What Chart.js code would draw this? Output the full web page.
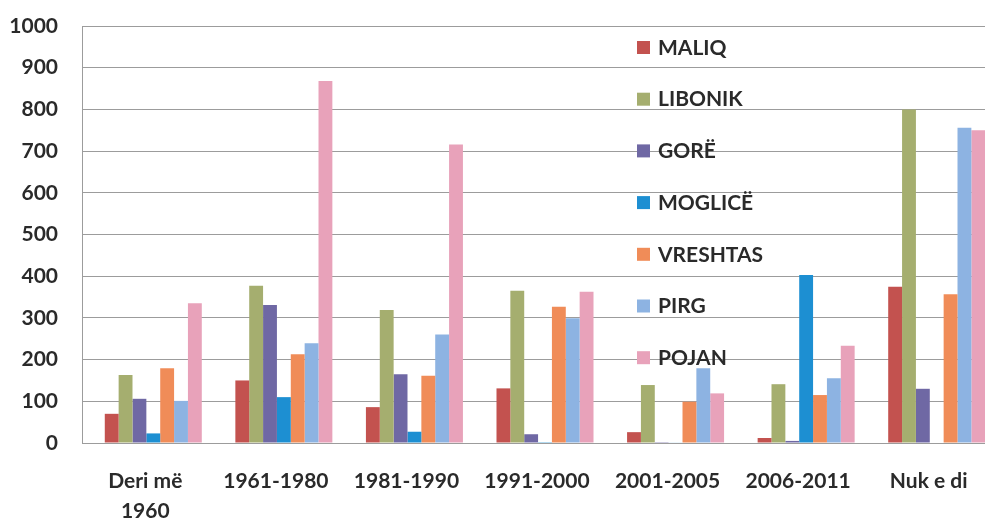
<!DOCTYPE html>
<html>
<head>
<meta charset="utf-8">
<title>Banesat sipas periudhës së ndërtimit</title>
<script src="https://cdn.jsdelivr.net/npm/chart.js@4.4.1/dist/chart.umd.min.js"></script>
<style>
  html, body { margin: 0; padding: 0; background: #fff; overflow: hidden; }
  #wrap { position: relative; width: 1002px; height: 519px; }
</style>
</head>
<body>
<div id="wrap"><canvas id="barChart"></canvas></div>
<script>
// periods of construction, one group of bars each
const periods = [['Deri më', '1960'], '1961-1980', '1981-1990', '1991-2000', '2001-2005', '2006-2011', 'Nuk e di'];
const villages = ['MALIQ', 'LIBONIK', 'GORË', 'MOGLICË', 'VRESHTAS', 'PIRG', 'POJAN'];

const maliq    = [70, 150, 86, 131, 26, 12, 375];
const libonik  = [163, 377, 319, 365, 139, 141, 800];
const gore     = [106, 331, 165, 21, 2, 5, 130];
const moglice  = [23, 110, 27, 2, 1, 403, 0];
const vreshtas = [179, 213, 161, 327, 99, 115, 357];
const pirg     = [101, 239, 260, 299, 179, 155, 756];
const pojan    = [335, 868, 716, 363, 119, 233, 750];

const yTicks = [0, 100, 200, 300, 400, 500, 600, 700, 800, 900, 1000];

const colors = ['#c3524f', '#a5ae6f', '#6f68a4', '#1d8fd2', '#f08c58', '#8db3e2', '#e8a2ba'];
const series = [maliq, libonik, gore, moglice, vreshtas, pirg, pojan];

const textColor = '#2a2a2a';
const gridColor = '#9c9c9c';

// legend sits inside the plot, stacked vertically
const insideLegend = {
    id: 'insideLegend',
    afterDraw(chart, args, opts) {
        const ctx = chart.ctx;
        ctx.save();
        ctx.font = 'bold 21px Lato';
        ctx.textBaseline = 'middle';
        chart.data.datasets.forEach((ds, i) => {
            const y = opts.top + i * opts.spacing;
            ctx.fillStyle = ds.backgroundColor;
            ctx.fillRect(opts.left, y - 6, 13, 13);
            ctx.fillStyle = textColor;
            ctx.fillText(ds.label, opts.left + 21, y + 1);
        });
        ctx.restore();
    }
};

// vertical axis line drawn at the outer end of the y tick marks
const leftAxisLine = {
    id: 'leftAxisLine',
    beforeDatasetsDraw(chart) {
        const { ctx, chartArea, scales } = chart;
        const x = chartArea.left - scales.y.options.grid.tickLength + 0.5;
        ctx.save();
        ctx.strokeStyle = gridColor;
        ctx.lineWidth = 1;
        ctx.beginPath();
        ctx.moveTo(x, chartArea.top);
        ctx.lineTo(x, chartArea.bottom);
        ctx.stroke();
        ctx.restore();
    }
};

const ctxBar = document.getElementById('barChart').getContext('2d');
const barChart = new Chart(ctxBar, {
    type: 'bar',
    data: {
        labels: periods,
        datasets: villages.map((name, i) => ({
            label: name,
            data: series[i],
            backgroundColor: colors[i],
            borderWidth: 0
        }))
    },
    options: {
        responsive: true,
        maintainAspectRatio: false,
        animation: false,
        layout: {
            padding: { top: 26, right: 0, bottom: 0, left: 0 }
        },
        datasets: {
            bar: {
                barPercentage: 1,
                categoryPercentage: 0.743
            }
        },
        plugins: {
            legend: { display: false },
            tooltip: { enabled: false },
            insideLegend: { left: 637, top: 47, spacing: 51.7 }
        },
        scales: {
            x: {
                grid: { display: false, drawTicks: false },
                border: { display: true, color: gridColor, width: 1 },
                ticks: {
                    color: textColor,
                    font: { family: 'Lato', size: 21, weight: 'bold', lineHeight: 1.43 },
                    padding: 23,
                    labelOffset: -8,
                    maxRotation: 0,
                    autoSkip: false
                },
                afterFit: (scale) => { scale.height = 76; }
            },
            y: {
                min: 0,
                max: 1000,
                afterBuildTicks: (scale) => { scale.ticks = yTicks.map(v => ({ value: v })); },
                grid: { color: gridColor, lineWidth: 1, drawTicks: true, tickLength: 6 },
                border: { display: false },
                ticks: {
                    color: textColor,
                    font: { family: 'Lato', size: 21, weight: 'bold' },
                    padding: 24,
                    callback: (value) => String(value)
                },
                afterFit: (scale) => {
                    scale.width = 88;
                    // the wide label gap should not push the plot down
                    scale.paddingTop = 0;
                    scale.paddingBottom = 0;
                }
            }
        }
    },
    plugins: [insideLegend, leftAxisLine]
});
</script>
</body>
</html>
